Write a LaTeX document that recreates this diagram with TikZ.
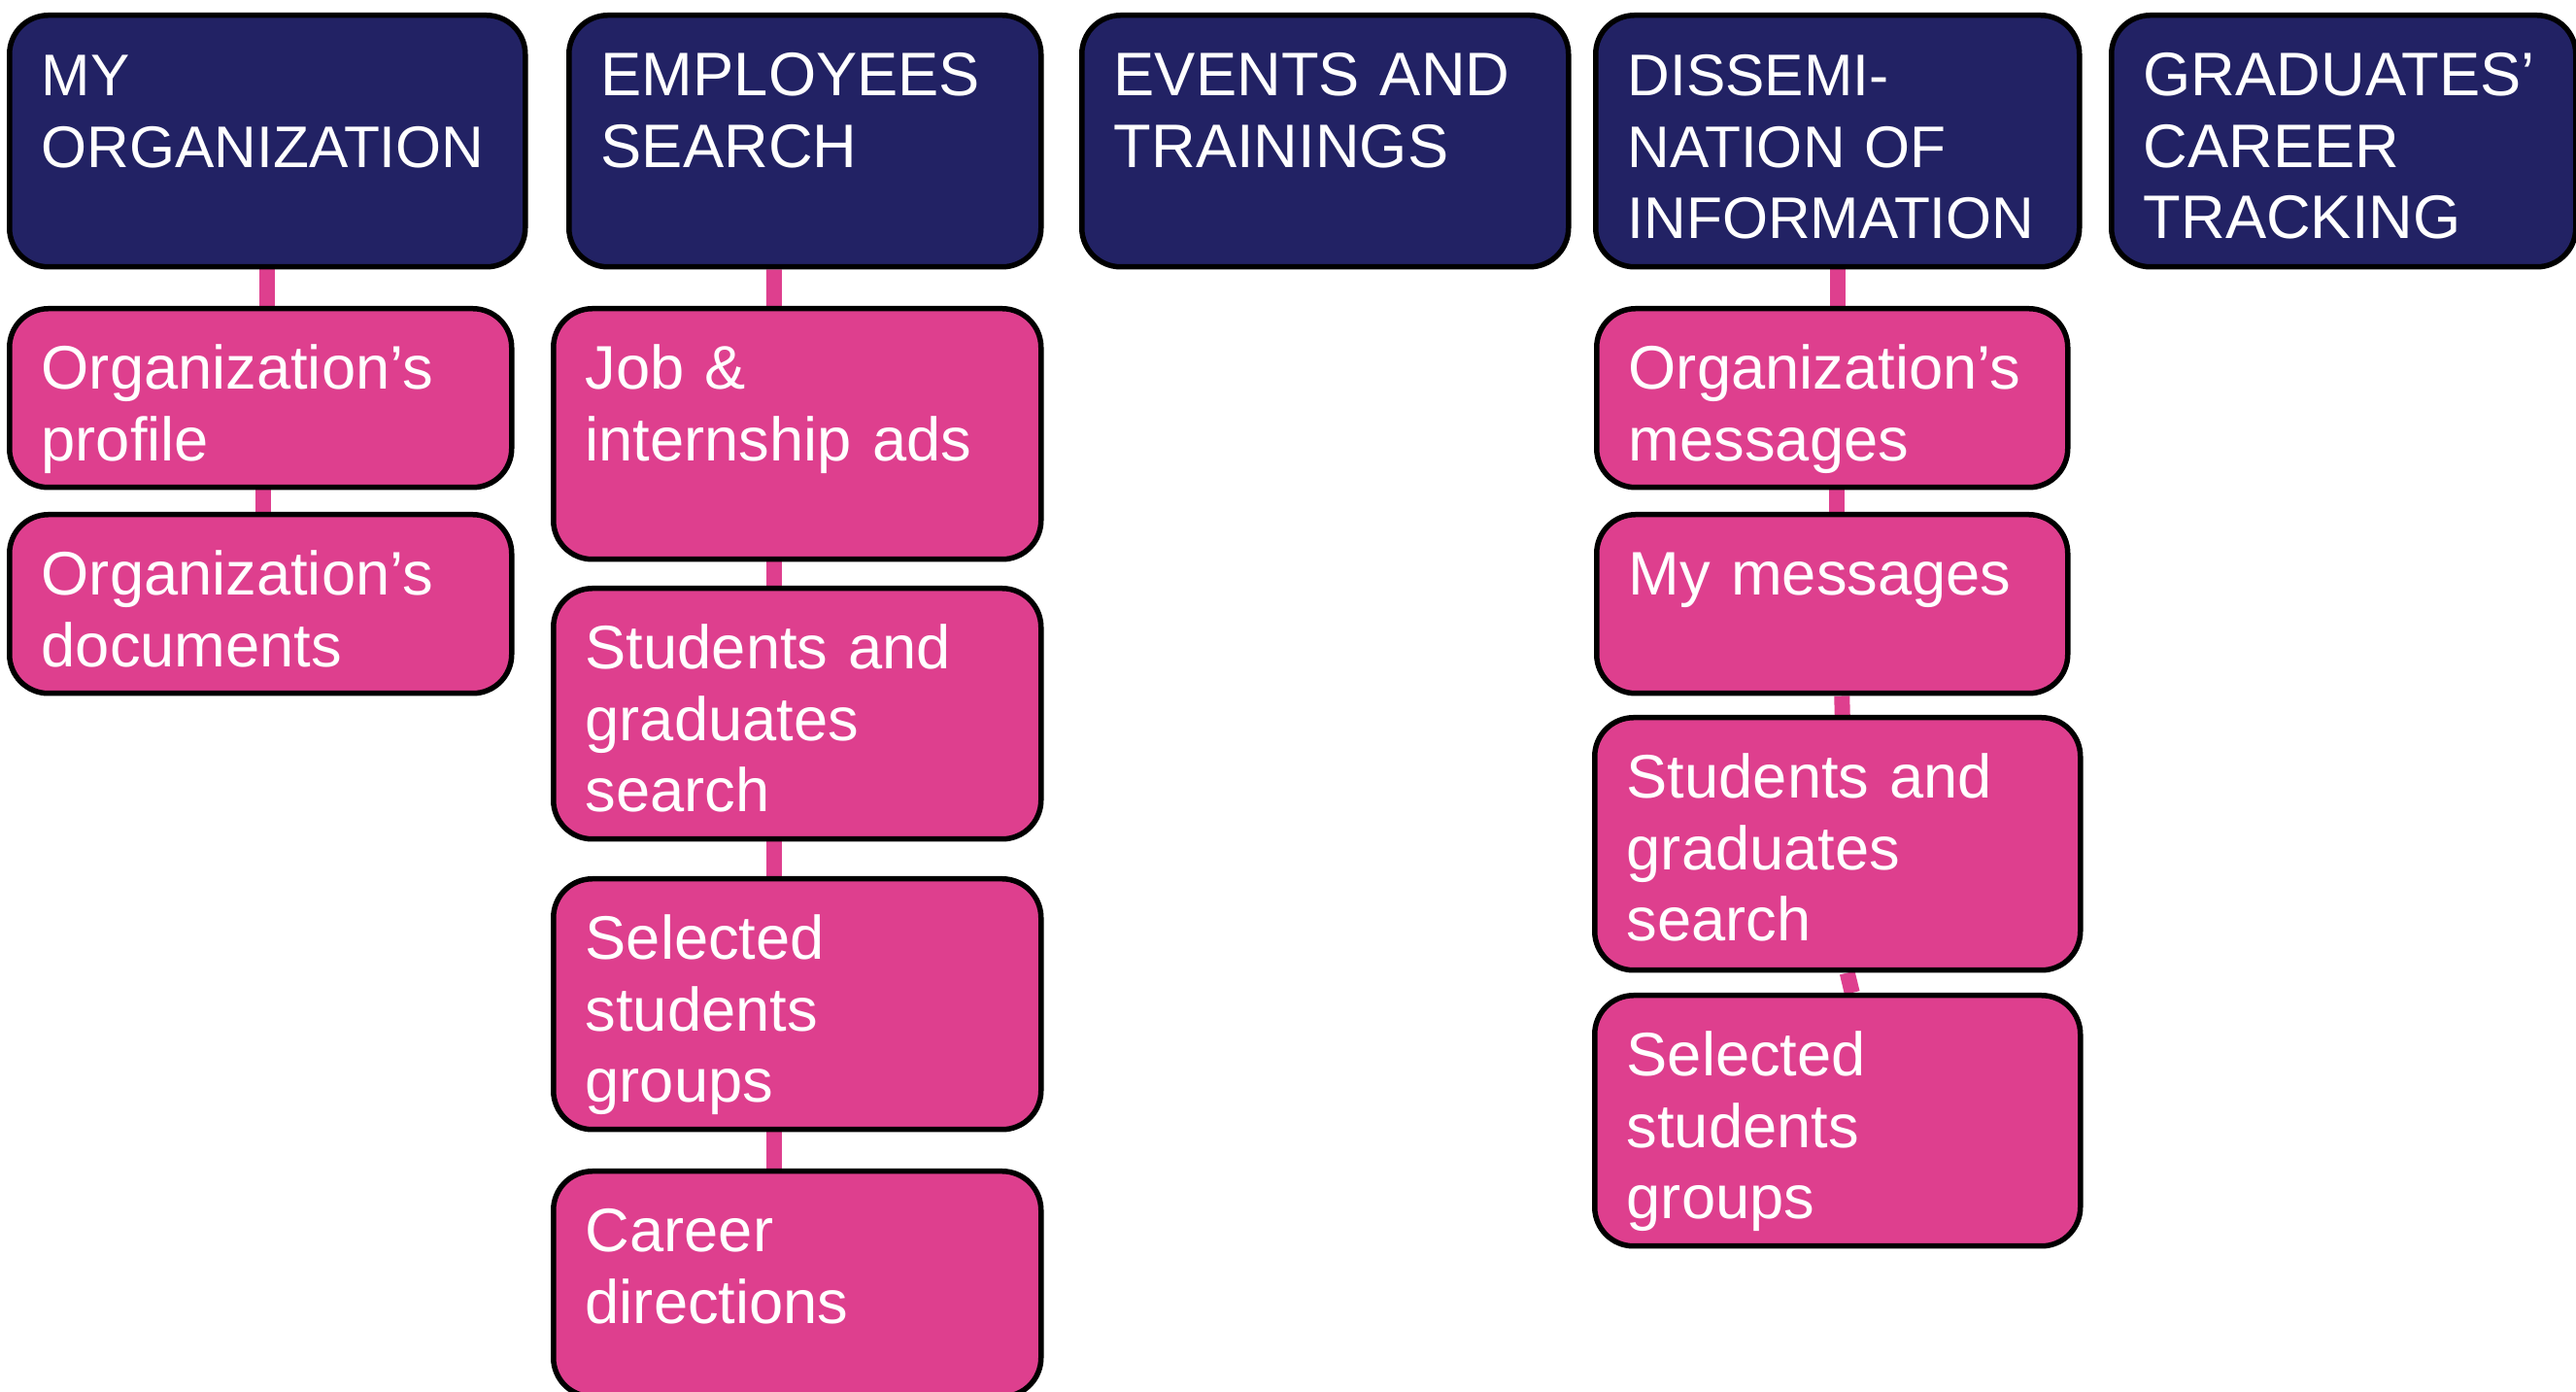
\documentclass[tikz,border=0pt]{standalone}
\usepackage{fontspec}
\setmainfont{Liberation Sans}
\usepackage{xcolor}
\usepackage{tikz}
\usetikzlibrary{backgrounds}
\definecolor{navyfill}{RGB}{34,34,100}
\definecolor{pinkfill}{RGB}{222,63,142}
\hyphenpenalty=10000
\exhyphenpenalty=10000

\begin{document}
\begin{tikzpicture}[
    box/.style={draw=black, line width=0.055cm, rounded corners=0.4cm, anchor=north west, align=left,
      text=white, inner xsep=0.33cm, inner ysep=0pt, text height=0.83cm, font=\fontsize{18}{20.9}\selectfont},
    headbox/.style={box, fill=navyfill, text depth=1.76cm},
    itembox/.style={box, fill=pinkfill, text depth=1.01cm},
    tallbox/.style={box, fill=pinkfill, text depth=1.75cm},
    link/.style={draw=pinkfill, line width=0.16cm}]
    \useasboundingbox (0,0) rectangle (26.52,-14.33);

    % Top row
    \node[headbox, text width=4.65cm, font=\fontsize{17.2}{20.9}\selectfont] (myorg) at (0.07,-0.13) {MY\\ORGANIZATION};
    \node[headbox, text width=4.20cm] (empsearch) at (5.83,-0.13) {EMPLOYEES\\SEARCH};
    \node[headbox, text width=4.35cm] (events) at (11.11,-0.13) {EVENTS AND\\TRAININGS};
    \node[headbox, text width=4.32cm, font=\fontsize{17.2}{20.9}\selectfont] (dissem) at (16.40,-0.13) {DISSEMI-\\NATION OF\\INFORMATION};
    \node[headbox, text width=4.12cm] (gradtrack) at (21.71,-0.13) {GRADUATES’\\CAREER\\TRACKING};

    % My organization
    \node[itembox, text width=4.51cm] (orgprofile) at (0.07,-3.15) {Organization’s\\profile};
    \node[itembox, text width=4.51cm] (orgdocs) at (0.07,-5.27) {Organization’s\\documents};

    % Employees search
    \node[tallbox, text width=4.36cm] (jobads) at (5.67,-3.15) {Job \&\\internship ads};
    \node[tallbox, text width=4.36cm] (studsearch) at (5.67,-6.03) {Students and\\graduates\\search};
    \node[tallbox, text width=4.36cm] (selgroups) at (5.67,-9.02) {Selected\\students\\groups};
    \node[tallbox, text width=4.36cm, text depth=1.49cm] (careerdir) at (5.67,-12.03) {Career\\directions};

    % Dissemination of information
    \node[itembox, text width=4.19cm] (orgmsg) at (16.41,-3.15) {Organization’s\\messages};
    \node[itembox, text width=4.19cm] (mymsg) at (16.41,-5.27) {My messages};
    \node[tallbox, text width=4.34cm, text depth=1.77cm] (studsearchb) at (16.39,-7.36) {Students and\\graduates\\search};
    \node[tallbox, text width=4.34cm] (selgroupsb) at (16.39,-10.22) {Selected\\students\\groups};

    % Links
    \begin{scope}[on background layer]
        \draw[link] (myorg.south) -- (myorg.south |- orgprofile.north);
        \draw[link] ([xshift=0.03cm]orgprofile.south) -- ([xshift=0.03cm]orgdocs.north);
        \draw[link] ([xshift=-0.32cm]empsearch.south) -- ([xshift=-0.24cm]jobads.north);
        \draw[link] ([xshift=-0.24cm]jobads.south) -- ([xshift=-0.24cm]studsearch.north);
        \draw[link] ([xshift=-0.24cm]studsearch.south) -- ([xshift=-0.24cm]selgroups.north);
        \draw[link] ([xshift=-0.24cm]selgroups.south) -- ([xshift=-0.24cm]careerdir.north);
        \draw[link] (dissem.south) -- (dissem.south |- orgmsg.north);
        \draw[link] ([xshift=0.05cm]orgmsg.south) -- ([xshift=0.05cm]mymsg.north);
        \draw[link] ([xshift=0.1cm]mymsg.south) -- ([xshift=0.05cm]studsearchb.north);
        \draw[link] ([xshift=0.1cm]studsearchb.south) -- ([xshift=0.15cm]selgroupsb.north);
    \end{scope}
\end{tikzpicture}
\end{document}
